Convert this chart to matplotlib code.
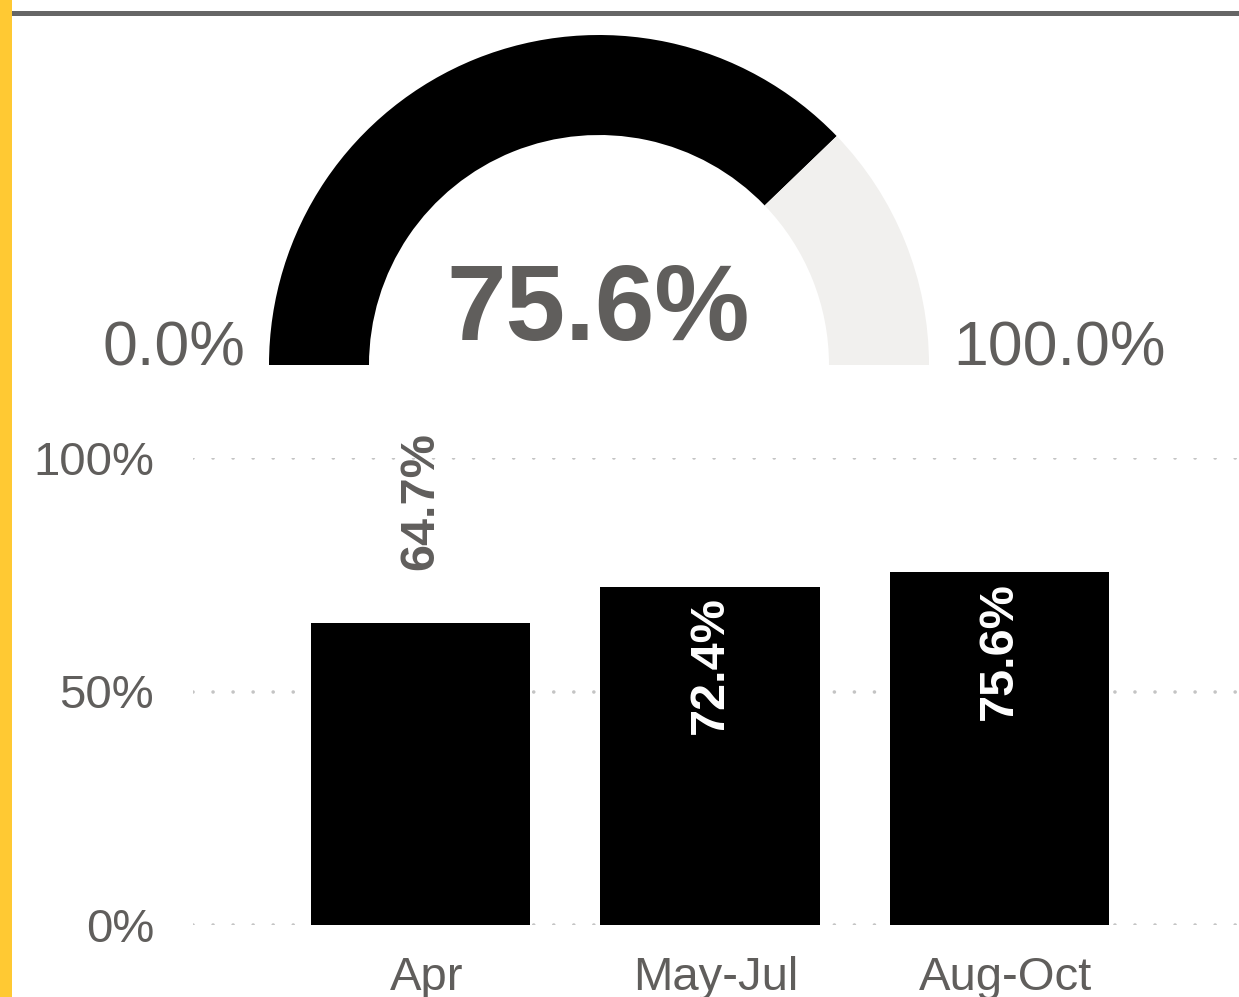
import matplotlib
matplotlib.use('Agg')
import matplotlib.pyplot as plt
import matplotlib.transforms as mtransforms
from matplotlib.patches import Wedge, Rectangle

plt.rcParams['font.family'] = ['Liberation Sans', 'DejaVu Sans']

# data
gauge_value = 75.6
gauge_min = 0.0
gauge_max = 100.0
periods = ['Apr', 'May-Jul', 'Aug-Oct']
rates = [64.7, 72.4, 75.6]
y_ticks = [0, 50, 100]

text_gray = '#605E5C'
bar_color = '#000000'
track_color = '#F1F0EE'

fig = plt.figure(figsize=(12.39, 9.97), dpi=100)

# background canvas in pixel coords (y up)
bg = fig.add_axes([0, 0, 1, 1])
bg.set_xlim(0, 1239)
bg.set_ylim(0, 997)
bg.axis('off')
bg.add_patch(Rectangle((0, 0), 12, 997, color='#FFC933', lw=0))
bg.add_patch(Rectangle((12, 981), 1227, 5, color='#666666', lw=0))

# gauge
cx, cy = 599, 632
r_out, ring = 330, 100
frac = (gauge_value - gauge_min) / (gauge_max - gauge_min)
split = 180 - frac * 180
bg.add_patch(Wedge((cx, cy), r_out, split, 180, width=ring, color=bar_color, lw=0))
bg.add_patch(Wedge((cx, cy), r_out, 0, split, width=ring, color=track_color, lw=0))
bg.text(cx - 1, 657, f'{gauge_value:.1f}%', ha='center', va='baseline',
        fontsize=77, fontweight='bold', color=text_gray)
bg.text(245, cy, f'{gauge_min:.1f}%', ha='right', va='baseline',
        fontsize=45, color=text_gray)
bg.text(953, cy, f'{gauge_max:.1f}%', ha='left', va='baseline',
        fontsize=45, color=text_gray)

# bar chart
ax = fig.add_axes([193 / 1239, 72 / 997, 1 - 193 / 1239, 467 / 997])
ax.patch.set_alpha(0)
x = list(range(len(periods)))
bars = ax.bar(x, rates, width=0.757, color=bar_color, zorder=2)
ax.set_xlim(-0.786, 2.827)
ax.set_ylim(0, 100)
ax.set_yticks(y_ticks)
ax.set_yticklabels([f'{t}%' for t in y_ticks])
ax.set_xticks(x)
ax.set_xticklabels(periods)
for s in ax.spines.values():
    s.set_visible(False)
ax.tick_params(axis='both', length=0, labelsize=34, labelcolor=text_gray)
ax.tick_params(axis='y', pad=28)
ax.tick_params(axis='x', pad=22)
ax.set_axisbelow(True)
ax.yaxis.grid(True, color='#C4C4C4', linewidth=2.6,
              linestyle=(0, (0.01, 5.54)), dash_capstyle='round')
ax.xaxis.grid(False)

# category labels sit a few pixels right of bar centres
shift = mtransforms.ScaledTranslation(0.06, 0, fig.dpi_scale_trans)
for lbl in ax.get_xticklabels():
    lbl.set_transform(lbl.get_transform() + shift)

for i, (b, v) in enumerate(zip(bars, rates)):
    inside = i > 0
    if inside:
        ax.annotate(f'{v:.1f}%', (b.get_x() + b.get_width() / 2, v),
                    xytext=(0, -7), textcoords='offset points',
                    rotation=90, ha='center', va='top', fontsize=35,
                    fontweight='bold', color='white', zorder=3)
    else:
        ax.annotate(f'{v:.1f}%', (b.get_x() + b.get_width() / 2, v),
                    xytext=(0, 38), textcoords='offset points',
                    rotation=90, ha='center', va='bottom', fontsize=35,
                    fontweight='bold', color=text_gray, zorder=3,
                    annotation_clip=False)

fig.savefig('out.png', dpi=100)
